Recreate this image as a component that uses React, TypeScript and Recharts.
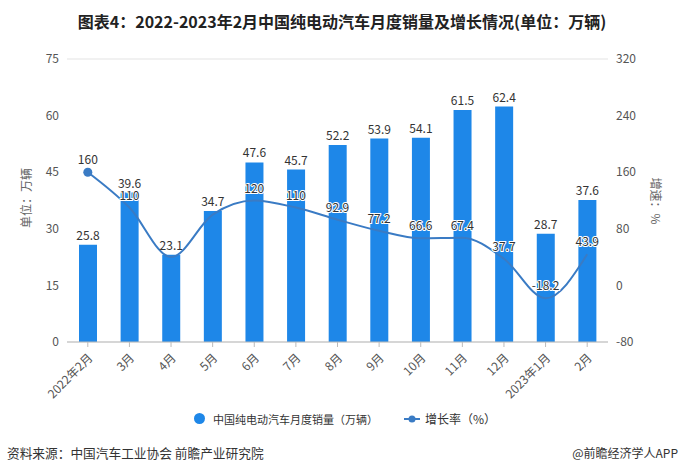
import {
  Bar,
  ComposedChart,
  CartesianGrid,
  LabelList,
  Line,
  XAxis,
  YAxis,
} from "recharts";

const categories = [
  "2022年2月", "3月", "4月", "5月", "6月", "7月", "8月",
  "9月", "10月", "11月", "12月", "2023年1月", "2月",
];
const sales = [25.8, 39.6, 23.1, 34.7, 47.6, 45.7, 52.2, 53.9, 54.1, 61.5, 62.4, 28.7, 37.6];
const growth = [160, 110, 40, 100, 120, 110, 92.9, 77.2, 66.6, 67.4, 37.7, -18.2, 43.9];
// points whose growth label is not shown in the source chart
const unlabeledGrowth = [2, 3];
const salesTicks = [0, 15, 30, 45, 60, 75];
const growthTicks = [-80, 0, 80, 160, 240, 320];

const data = categories.map((month, i) => ({ month, sales: sales[i], growth: growth[i] }));

const BAR = "#1e87e8";
const LINE = "#3a7bc4";
const FONT = '"Noto Sans CJK SC", "Noto Sans", sans-serif';

function MonthTick({ x, y, payload }: any) {
  return (
    <g transform={`translate(${x},${y + 4})`}>
      <text
        textAnchor="end"
        transform="rotate(-45)"
        dy={8}
        fontSize={12}
        fill="#555"
        fontFamily={FONT}
      >
        {payload.value}
      </text>
    </g>
  );
}

function GrowthLabel(props: any) {
  const { x, y, value, index } = props;
  if (unlabeledGrowth.includes(index)) return null;
  return (
    <text
      x={x}
      y={y - 8}
      textAnchor="middle"
      fontSize={12}
      fill="#333"
      stroke="#fff"
      strokeWidth={2}
      paintOrder="stroke"
      fontFamily={FONT}
    >
      {value}
    </text>
  );
}

function FirstDot(props: any) {
  const { cx, cy, index } = props;
  if (index !== 0) return <g key={`d${index}`} />;
  return <circle key="d0" cx={cx} cy={cy} r={4.5} fill={LINE} />;
}

export default function App() {
  return (
    <div
      style={{
        position: "absolute",
        left: 0,
        top: 0,
        width: 684,
        height: 475,
        background: "#fff",
        fontFamily: FONT,
      }}
    >
      <div
        style={{
          position: "absolute",
          top: 9,
          left: 0,
          width: 684,
          textAlign: "center",
          fontSize: 16,
          fontWeight: 700,
          color: "#222",
        }}
      >
        图表4：2022-2023年2月中国纯电动汽车月度销量及增长情况(单位：万辆)
      </div>

      <ComposedChart
        width={684}
        height={475}
        data={data}
        margin={{ top: 59, right: 36, bottom: 83, left: 27 }}
        style={{ position: "absolute", left: 0, top: 0 }}
      >
        <CartesianGrid stroke="#e3e3e3" vertical={false} />
        <XAxis
          dataKey="month"
          height={50}
          interval={0}
          tick={<MonthTick />}
          tickLine={{ stroke: "#bbb" }}
          tickSize={5}
          axisLine={{ stroke: "#bbb" }}
        />
        <YAxis
          yAxisId="sales"
          width={40}
          domain={[0, 75]}
          ticks={salesTicks}
          axisLine={false}
          tickLine={false}
          tick={{ fontSize: 12, fill: "#555", fontFamily: FONT }}
        />
        <YAxis
          yAxisId="growth"
          orientation="right"
          width={40}
          domain={[-80, 320]}
          ticks={growthTicks}
          axisLine={false}
          tickLine={false}
          tick={{ fontSize: 12, fill: "#555", fontFamily: FONT }}
        />
        <Bar yAxisId="sales" dataKey="sales" fill={BAR} barSize={18} isAnimationActive={false}>
          <LabelList
            dataKey="sales"
            position="top"
            offset={5}
            fontSize={12}
            fill="#333"
            fontFamily={FONT}
          />
        </Bar>
        <Line
          yAxisId="growth"
          dataKey="growth"
          type="monotone"
          stroke={LINE}
          strokeWidth={2}
          dot={FirstDot}
          activeDot={false}
          isAnimationActive={false}
        >
          <LabelList dataKey="growth" content={GrowthLabel} />
        </Line>
      </ComposedChart>

      <svg
        width={684}
        height={475}
        style={{ position: "absolute", left: 0, top: 0, pointerEvents: "none" }}
      >
        <text
          transform="translate(25,198) rotate(-90)"
          textAnchor="middle"
          dominantBaseline="central"
          fontSize={12}
          fill="#666"
          fontFamily={FONT}
        >
          单位：万辆
        </text>
        <text
          transform="translate(656,201) rotate(90)"
          textAnchor="middle"
          dominantBaseline="central"
          fontSize={12}
          fill="#666"
          fontFamily={FONT}
        >
          增速：%
        </text>
      </svg>

      <div
        style={{
          position: "absolute",
          top: 410,
          left: 194,
          display: "flex",
          alignItems: "center",
          fontSize: 11,
          color: "#333",
        }}
      >
        <span
          style={{
            width: 11,
            height: 11,
            borderRadius: "50%",
            background: BAR,
            display: "inline-block",
            marginRight: 8,
          }}
        />
        <span>中国纯电动汽车月度销量（万辆）</span>
        <svg width={16} height={10} style={{ marginLeft: 26, marginRight: 5 }}>
          <line x1={0} y1={5} x2={16} y2={5} stroke={LINE} strokeWidth={2} />
          <circle cx={8} cy={5} r={3.5} fill={LINE} />
        </svg>
        <span style={{ fontSize: 12 }}>增长率（%）</span>
      </div>

      <div
        style={{
          position: "absolute",
          top: 443,
          left: 7,
          fontSize: 12.7,
          color: "#333",
        }}
      >
        资料来源：中国汽车工业协会 前瞻产业研究院
      </div>
      <div
        style={{
          position: "absolute",
          top: 444,
          right: 6,
          fontSize: 12,
          color: "#333",
        }}
      >
        @前瞻经济学人APP
      </div>
    </div>
  );
}
